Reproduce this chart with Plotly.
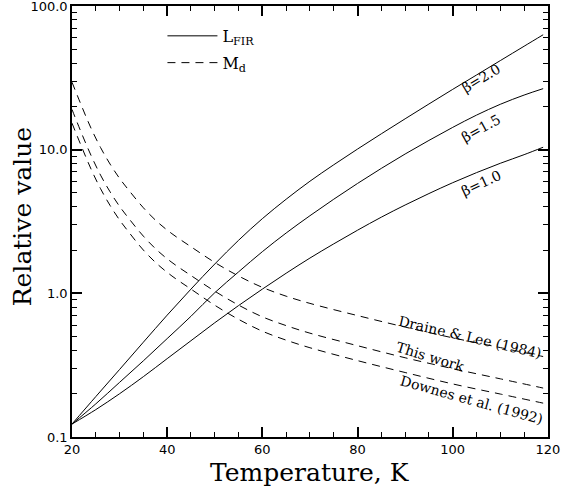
import math
import plotly.graph_objects as go

# ---- data ----
temp_solid = [20, 25, 30, 35, 40, 45, 50, 55, 60, 65, 70, 75, 80, 85, 90, 95, 100, 105, 110, 115, 119]
lfir_beta20 = [0.123, 0.191, 0.295, 0.457, 0.705, 1.07, 1.60, 2.34, 3.31, 4.52, 6.03, 7.85, 10.1,
               12.9, 16.4, 20.8, 26.3, 33.1, 41.7, 52.5, 63.1]
lfir_beta15 = [0.123, 0.170, 0.240, 0.339, 0.484, 0.692, 1.01, 1.41, 1.95, 2.63, 3.47, 4.52, 5.82,
               7.41, 9.33, 11.6, 14.3, 17.4, 20.7, 24.0, 26.6]
lfir_beta10 = [0.123, 0.155, 0.200, 0.263, 0.351, 0.468, 0.624, 0.822, 1.07, 1.38, 1.76, 2.21, 2.75,
               3.39, 4.12, 4.95, 5.89, 6.92, 8.04, 9.23, 10.4]

temp_dashed = [20, 22, 24, 26, 28, 30, 32, 35, 38, 41, 45, 50, 55, 60, 65, 70, 80, 90, 100, 110, 119]
md_draine_lee = [29.5, 20.2, 14.1, 10.35, 7.94, 6.31, 5.19, 3.94, 3.13, 2.60, 2.11, 1.64, 1.32, 1.10,
                 0.955, 0.851, 0.700, 0.582, 0.490, 0.419, 0.363]
md_this_work = [19.05, 13.03, 9.12, 6.65, 5.09, 4.03, 3.30, 2.50, 1.98, 1.64, 1.33, 1.035, 0.828, 0.686,
                0.596, 0.528, 0.432, 0.356, 0.299, 0.254, 0.219]
md_downes = [15.3, 10.5, 7.33, 5.35, 4.09, 3.24, 2.65, 2.00, 1.59, 1.32, 1.07, 0.826, 0.659, 0.545,
             0.472, 0.418, 0.340, 0.281, 0.234, 0.199, 0.172]

x_tick_vals = [20, 40, 60, 80, 100, 120]
x_minor_vals = [25, 30, 35, 45, 50, 55, 65, 70, 75, 85, 90, 95, 105, 110, 115]
y_tick_vals = [0.1, 1, 10, 100]
y_tick_text = ["0.1", "1.0", "10.0", "100.0"]
y_minor_vals = [0.2, 0.3, 0.4, 0.5, 0.6, 0.7, 0.8, 0.9, 2, 3, 4, 5, 6, 7, 8, 9,
                20, 30, 40, 50, 60, 70, 80, 90]

beta_labels = ["β=2.0", "β=1.5", "β=1.0"]
beta_label_pos = [(106, 31.6), (106, 14.1), (106, 5.9)]
beta_label_angle = [-31, -29, -25]
md_labels = ["Draine &amp; Lee (1984)", "This work", "Downes et al. (1992)"]
md_label_pos = [(103.6, 0.50), (95.4, 0.358), (104.0, 0.181)]
md_label_angle = [13, 17, 15.5]

fig = go.Figure()

solid_series = [lfir_beta20, lfir_beta15, lfir_beta10]
for i, ys in enumerate(solid_series):
    fig.add_trace(go.Scatter(
        x=temp_solid, y=ys, mode="lines",
        line=dict(color="black", width=1, shape="spline"),
        name="L<sub>FIR</sub>", legendgroup="lfir", showlegend=(i == 0),
    ))

dashed_series = [md_draine_lee, md_this_work, md_downes]
for i, ys in enumerate(dashed_series):
    fig.add_trace(go.Scatter(
        x=temp_dashed, y=ys, mode="lines",
        line=dict(color="black", width=1, dash="8px,6px", shape="spline"),
        name="M<sub>d</sub>", legendgroup="md", showlegend=(i == 0),
    ))

serif = "DejaVu Serif"
annotations = []
for txt, (tx, ty), ang in zip(beta_labels, beta_label_pos, beta_label_angle):
    annotations.append(dict(x=tx, y=math.log10(ty), xref="x", yref="y", text=txt,
                            showarrow=False, textangle=ang,
                            font=dict(family=serif, size=14, color="black")))
for txt, (tx, ty), ang in zip(md_labels, md_label_pos, md_label_angle):
    annotations.append(dict(x=tx, y=math.log10(ty), xref="x", yref="y", text=txt,
                            showarrow=False, textangle=ang,
                            font=dict(family=serif, size=14, color="black")))

annotations.append(dict(x=0.5, y=-0.082, xref="paper", yref="paper", text="Temperature, K",
                        showarrow=False, xanchor="center", yanchor="middle",
                        font=dict(family=serif, size=25, color="black")))
annotations.append(dict(x=-0.105, y=0.51, xref="paper", yref="paper", text="Relative value",
                        showarrow=False, xanchor="center", yanchor="middle", textangle=-90,
                        font=dict(family=serif, size=25, color="black")))

fig.update_layout(
    template="none",
    width=562, height=488,
    margin=dict(l=72, r=14, t=6, b=51),
    paper_bgcolor="white", plot_bgcolor="white",
    showlegend=True,
    legend=dict(x=0.19, y=0.970, xanchor="left", yanchor="top",
                bgcolor="rgba(0,0,0,0)", font=dict(family=serif, size=16, color="black"),
                itemwidth=50, tracegroupgap=3),
    annotations=annotations,
    xaxis=dict(
        range=[20, 120.02], showline=True, linecolor="black", linewidth=1.6, mirror="allticks",
        ticks="inside", ticklen=10, tickwidth=1.5, tickcolor="black",
        tickmode="array", tickvals=x_tick_vals, showgrid=False, zeroline=False,
        ticklabeloverflow="allow",
        tickfont=dict(family="DejaVu Sans", size=13, color="black"),
        minor=dict(ticks="inside", ticklen=5, tickwidth=1.4, tickcolor="black",
                   tickmode="array", tickvals=x_minor_vals, showgrid=False),
    ),
    yaxis=dict(
        type="log", range=[-1.0002, 2.0002], showline=True, linecolor="black", linewidth=1.6,
        mirror="allticks", ticks="inside", ticklen=10, tickwidth=1.5, tickcolor="black",
        tickmode="array", tickvals=y_tick_vals, ticktext=y_tick_text,
        showgrid=False, zeroline=False, ticklabeloverflow="allow",
        tickfont=dict(family="DejaVu Sans", size=13, color="black"),
        minor=dict(ticks="inside", ticklen=5, tickwidth=1.4, tickcolor="black",
                   tickmode="array", tickvals=y_minor_vals, showgrid=False),
    ),
)

fig.write_html("out.html", post_script="document.body.style.margin='0';",
               config={"displayModeBar": False})
